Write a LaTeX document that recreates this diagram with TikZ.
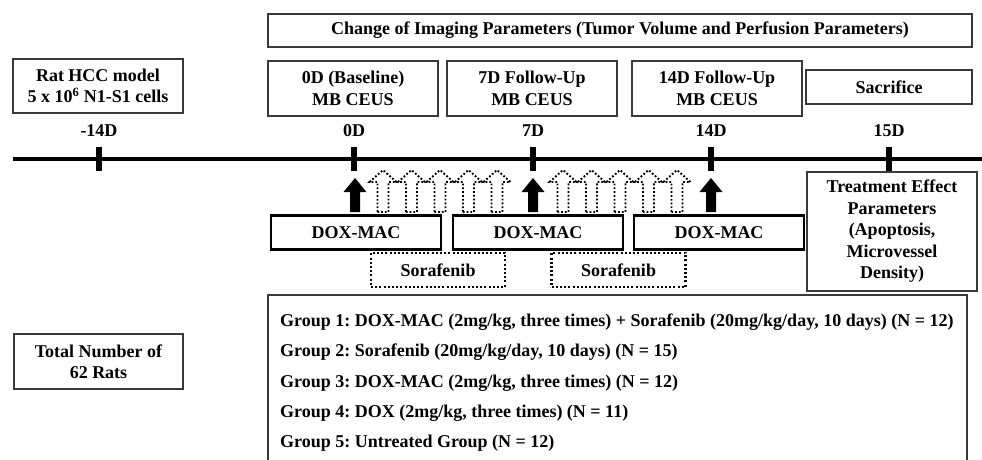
\documentclass[tikz,border=0pt]{standalone}
\usepackage{fontspec}
\setmainfont{Liberation Serif}
\definecolor{boxgray}{HTML}{3A3A3A}
\begin{document}
\frenchspacing
\begin{tikzpicture}[x=1pt,y=-1pt,
  txt/.style={font=\fontsize{18}{21.5}\selectfont\bfseries, align=center, inner sep=0pt},
  thinbox/.style={txt, draw=boxgray, line width=1.3pt},
  thickbox/.style={txt, draw=black, line width=2.7pt, minimum width=170pt, minimum height=34pt},
  dotbox/.style={txt, draw=black, line width=2.2pt, dash pattern=on 2pt off 2.2pt, minimum width=134pt, minimum height=34pt},
  daylabel/.style={txt},
  tick/.style={line width=6pt},
  hollowarrow/.style={draw=black, line width=1.9pt, dash pattern=on 1.8pt off 2pt},
  grp/.style={txt, anchor=west, align=left},
]
\useasboundingbox (0,0) rectangle (982,459);

% top boxes
\node[thinbox, minimum width=704pt, minimum height=33pt] (change) at (620,30.5)
  {Change of Imaging Parameters (Tumor Volume and Perfusion Parameters)};
\node[thinbox, minimum width=170pt, minimum height=54pt] (rat) at (98,86)
  {Rat HCC model\\5 x 10\textsuperscript{6} N1-S1 cells};
\node[thinbox, minimum width=170pt, minimum height=55pt] (base) at (353,88.5)
  {0D (Baseline)\\MB CEUS};
\node[thinbox, minimum width=170pt, minimum height=55pt] (fu7) at (532,88.5)
  {7D Follow-Up\\MB CEUS};
\node[thinbox, minimum width=170pt, minimum height=55pt] (fu14) at (717,88.5)
  {14D Follow-Up\\MB CEUS};
\node[thinbox, minimum width=166pt, minimum height=34pt] (sac) at (889,87)
  {Sacrifice};

% day labels
\node[daylabel] (lm14) at (99,131) {-14D};
\node[daylabel] (l0) at (354,131) {0D};
\node[daylabel] (l7) at (533,131) {7D};
\node[daylabel] (l14) at (711,131) {14D};
\node[daylabel] (l15) at (889,131) {15D};

% timeline
\coordinate (tl) at (13,159);
\coordinate (tr) at (982,159);
\draw[line width=4pt] (tl) -- (tr);
\foreach \n/\x in {tm14/99, t0/354, t7/533, t14/711, t15/889}{
  \coordinate (\n a) at (\x,147);
  \coordinate (\n b) at (\x,171);
  \draw[tick] (\n a) -- (\n b);
}

% black arrows
\foreach \x in {355,533,711}{
  \fill[black] (\x-5,212) -- (\x+5,212) -- (\x+5,192) -- (\x+11.5,192) -- (\x,178)
     -- (\x-11.5,192) -- (\x-5,192) -- cycle;
}
% hollow dotted arrows
\foreach \x in {383,411.5,440,468.5,497,563,591.5,620,648.5,677}{
  \draw[hollowarrow] (\x-5.5,212) -- (\x-5.5,182) -- (\x-13.5,182) -- (\x,170)
     -- (\x+13.5,182) -- (\x+5.5,182) -- (\x+5.5,212) -- cycle;
}

% DOX-MAC boxes
\node[thickbox] (dm1) at (356,232.5) {DOX-MAC};
\node[thickbox] (dm2) at (538,232.5) {DOX-MAC};
\node[thickbox] (dm3) at (719,232.5) {DOX-MAC};

% Sorafenib boxes
\node[dotbox] (sf1) at (438,270) {Sorafenib};
\node[dotbox] (sf2) at (618.5,270) {Sorafenib};

% treatment effect box
\node[thinbox, minimum width=170pt, minimum height=119pt] (teff) at (892,231.5)
  {Treatment Effect\\Parameters\\(Apoptosis,\\Microvessel\\Density)};

% total
\node[thinbox, minimum width=169pt, minimum height=55pt] (total) at (98.5,361.5)
  {Total Number of\\62 Rats};

% group box
\node[thinbox, minimum width=699pt, minimum height=190pt] (groups) at (617.5,390) {};
\node[grp] (g1) at (280,322) {Group 1: DOX-MAC (2mg/kg, three times) + Sorafenib (20mg/kg/day, 10 days) (N = 12)};
\node[grp] (g2) at (280,352.5) {Group 2: Sorafenib (20mg/kg/day, 10 days) (N = 15)};
\node[grp] (g3) at (280,383) {Group 3: DOX-MAC (2mg/kg, three times) (N = 12)};
\node[grp] (g4) at (280,413) {Group 4: DOX (2mg/kg, three times) (N = 11)};
\node[grp] (g5) at (280,443) {Group 5: Untreated Group (N = 12)};
\end{tikzpicture}
\end{document}
